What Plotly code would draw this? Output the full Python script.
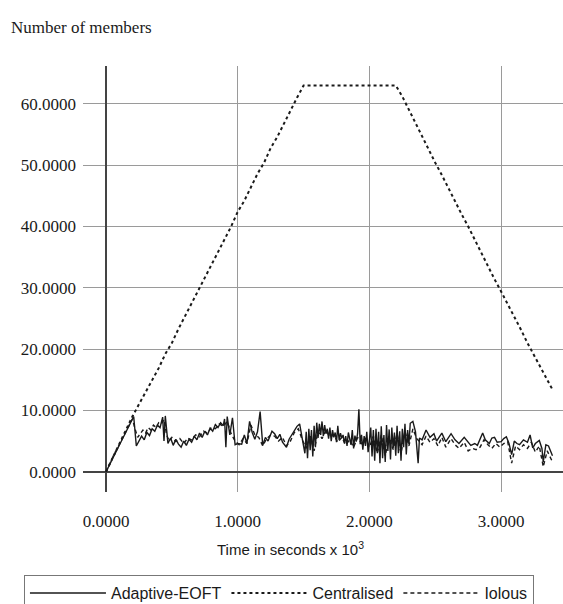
import plotly.graph_objects as go

# ---------------- data ----------------
t_central = [0, 0.05, 0.1, 0.15, 0.2, 0.25, 0.3, 0.35, 0.4, 0.45, 0.5, 0.55, 0.6, 0.65, 0.7,
             0.75, 0.8, 0.85, 0.9, 0.95, 1.0, 1.05, 1.1, 1.15, 1.2, 1.25, 1.3, 1.35, 1.4, 1.45,
             1.5, 1.6, 1.7, 1.8, 1.9, 2.0, 2.1, 2.2, 2.25, 2.3, 2.35, 2.4, 2.45, 2.5, 2.55, 2.6,
             2.65, 2.7, 2.75, 2.8, 2.85, 2.9, 2.95, 3.0, 3.05, 3.1, 3.15, 3.2, 3.25, 3.3, 3.35, 3.39]
y_central = [0, 2.3, 4.5, 6.8, 9.0, 11.0, 12.9, 14.8, 16.9, 19.2, 21.0, 23.3, 25.4, 27.5, 29.6,
             31.5, 33.8, 35.8, 37.9, 40.0, 42.4, 44.2, 46.4, 48.6, 50.4, 52.8, 54.6, 56.8, 59.0, 61.0,
             63.0, 63.0, 63.0, 63.0, 63.0, 63.0, 63.0, 63.0, 61.2, 59.0, 57.0, 54.8, 52.6, 50.4, 48.4, 46.2,
             44.2, 42.0, 40.0, 37.8, 35.8, 33.6, 31.4, 29.4, 27.4, 25.2, 23.2, 21.0, 19.0, 16.8, 14.8, 13.4]

t_adaptive = [0, 0.03, 0.06, 0.09, 0.12, 0.15, 0.18, 0.21, 0.23, 0.25, 0.27, 0.29, 0.31, 0.33,
              0.35, 0.37, 0.39, 0.41, 0.43, 0.44, 0.45, 0.47, 0.49, 0.51, 0.53, 0.55, 0.57, 0.59,
              0.61, 0.63, 0.65, 0.67, 0.69, 0.71, 0.73, 0.75, 0.77, 0.79, 0.81, 0.83, 0.85, 0.87,
              0.89, 0.90, 0.91, 0.92, 0.94, 0.96, 0.98, 1.00, 1.03, 1.05, 1.07, 1.09, 1.11, 1.13,
              1.15, 1.17, 1.19, 1.21, 1.23, 1.26, 1.28, 1.30, 1.32, 1.34, 1.37, 1.39, 1.41, 1.43,
              1.45, 1.47, 1.49, 1.50, 1.51, 1.52, 1.53, 1.54, 1.55, 1.56, 1.57, 1.58, 1.59, 1.60,
              1.61, 1.62, 1.63, 1.64, 1.65, 1.66, 1.67, 1.68, 1.69, 1.70, 1.71, 1.72, 1.73, 1.74,
              1.75, 1.76, 1.77, 1.78, 1.79, 1.80, 1.81, 1.82, 1.83, 1.84, 1.85, 1.86, 1.87, 1.88,
              1.89, 1.90, 1.91, 1.92, 1.93, 1.94, 1.95, 1.96, 1.97, 1.98, 1.99, 2.00, 2.01, 2.02,
              2.03, 2.04, 2.05, 2.06, 2.07, 2.08, 2.09, 2.10, 2.11, 2.12, 2.13, 2.14, 2.15, 2.16,
              2.17, 2.18, 2.19, 2.20, 2.21, 2.22, 2.23, 2.24, 2.25, 2.26, 2.27, 2.28, 2.29, 2.30,
              2.31, 2.33, 2.35, 2.37, 2.38, 2.40, 2.43, 2.46, 2.49, 2.51, 2.55, 2.58, 2.62, 2.65,
              2.68, 2.72, 2.75, 2.77, 2.80, 2.82, 2.86, 2.88, 2.91, 2.93, 2.95, 2.97, 3.00, 3.02,
              3.04, 3.06, 3.08, 3.10, 3.12, 3.14, 3.17, 3.20, 3.22, 3.24, 3.26, 3.29, 3.31, 3.32,
              3.34, 3.36, 3.39]
y_adaptive = [0, 1.3, 2.6, 3.9, 5.2, 6.4, 7.8, 9.0, 4.2, 5.0, 5.8, 5.2, 6.4, 5.9,
              7.0, 6.6, 7.6, 7.2, 8.9, 5.0, 9.1, 4.6, 5.5, 4.3, 5.3, 4.5, 4.0, 5.0,
              4.3, 5.3, 4.8, 5.8, 5.2, 6.3, 5.6, 6.6, 6.0, 7.1, 6.6, 7.7, 7.2, 8.0,
              7.5, 8.6, 4.0, 9.0, 6.0, 8.8, 4.4, 4.6, 4.5, 6.0, 4.6, 8.2, 6.4, 5.3,
              6.5, 9.8, 4.3, 5.6, 5.0, 6.6, 6.2, 5.4, 6.1, 4.8, 4.0, 5.3, 6.0, 6.8,
              7.4, 7.8, 5.5, 4.0, 3.0, 6.5, 2.2, 7.0, 3.5, 6.8, 2.5, 7.5, 4.0, 8.0,
              5.5, 7.8, 6.0, 8.2, 5.8, 7.6, 6.2, 7.0, 5.4, 7.2, 5.0, 6.8, 5.6, 6.4,
              4.8, 7.5, 5.2, 6.3, 5.5, 6.0, 4.6, 5.8, 4.2, 6.4, 5.0, 4.4, 6.8, 3.8,
              5.9, 4.9, 6.2, 10.2, 4.5, 6.0, 3.6, 5.8, 4.2, 6.5, 3.2, 5.0, 7.2, 2.5,
              6.8, 1.8, 7.0, 3.0, 6.5, 1.4, 7.4, 2.2, 6.0, 1.6, 7.6, 3.4, 6.9, 2.0,
              7.2, 3.8, 6.4, 2.6, 7.5, 3.0, 6.6, 1.8, 7.0, 4.0, 7.8, 2.8, 6.8, 4.5,
              7.9, 8.2, 6.5, 1.4, 5.5, 5.2, 6.8, 5.6, 6.2, 5.0, 6.3, 4.9, 6.2, 5.2,
              4.6, 5.6, 4.8, 4.3, 4.6, 4.3, 6.3, 5.2, 4.6, 5.5, 5.6, 4.8, 4.9, 5.4,
              5.7, 4.6, 2.8, 5.0, 4.6, 4.4, 5.2, 4.8, 6.0, 3.9, 4.6, 5.1, 3.8, 1.6,
              4.4, 4.2, 2.6]

t_iolous = [0, 0.03, 0.06, 0.09, 0.12, 0.15, 0.18, 0.20, 0.22, 0.24, 0.26, 0.28, 0.30, 0.32,
            0.34, 0.36, 0.38, 0.40, 0.42, 0.44, 0.46, 0.48, 0.50, 0.53, 0.56, 0.59, 0.62, 0.65,
            0.68, 0.71, 0.74, 0.77, 0.80, 0.83, 0.86, 0.89, 0.92, 0.95, 0.98, 1.01, 1.04, 1.07,
            1.10, 1.13, 1.16, 1.19, 1.22, 1.25, 1.28, 1.31, 1.34, 1.37, 1.40, 1.43, 1.46, 1.49,
            1.52, 1.55, 1.58, 1.61, 1.64, 1.67, 1.70, 1.73, 1.76, 1.79, 1.82, 1.85, 1.88, 1.91,
            1.94, 1.97, 2.00, 2.03, 2.06, 2.09, 2.12, 2.15, 2.18, 2.21, 2.24, 2.27, 2.30, 2.33,
            2.36, 2.40, 2.43, 2.46, 2.49, 2.52, 2.55, 2.58, 2.62, 2.65, 2.68, 2.72, 2.75, 2.78,
            2.81, 2.84, 2.87, 2.90, 2.93, 2.96, 2.99, 3.02, 3.05, 3.08, 3.11, 3.14, 3.17, 3.20,
            3.23, 3.26, 3.29, 3.32, 3.35, 3.39]
y_iolous = [0, 1.5, 2.8, 4.0, 5.3, 6.6, 7.8, 8.6, 7.0, 5.6, 6.2, 6.8, 6.3, 7.2,
            6.8, 7.6, 7.2, 8.0, 7.8, 8.5, 6.0, 5.0, 5.6, 4.9, 5.4, 4.6, 5.5, 5.2,
            6.0, 5.7, 6.6, 6.3, 7.2, 7.0, 7.8, 7.4, 8.2, 6.2, 5.0, 4.4, 5.4, 4.6,
            7.6, 6.0, 5.6, 4.2, 5.4, 6.0, 5.8, 5.0, 5.6, 4.2, 5.0, 6.4, 7.0, 5.2,
            3.8, 5.8, 3.4, 6.6, 5.4, 6.8, 5.6, 6.0, 4.8, 5.6, 4.4, 5.2, 4.0, 5.6,
            4.6, 5.4, 4.0, 5.8, 3.0, 6.0, 2.6, 5.8, 3.6, 6.2, 3.0, 6.6, 4.2, 7.0,
            5.4, 4.4, 5.8, 4.8, 5.4, 4.2, 5.6, 4.0, 5.4, 4.4, 3.8, 4.8, 3.4, 3.8,
            3.6, 4.0, 5.2, 4.4, 3.8, 4.6, 4.0, 4.6, 4.9, 1.4, 4.2, 3.6, 4.4, 3.8,
            4.8, 3.2, 4.2, 0.8, 3.4, 1.6]

x_ticks = [0, 1, 2, 3]
y_ticks = [0, 10, 20, 30, 40, 50, 60]

LINE = "#1a1a1a"
GRID = "#9a9a9a"
SERIF = "Liberation Serif"
SANS = "Liberation Sans"

fig = go.Figure()
fig.add_trace(go.Scatter(x=t_adaptive, y=y_adaptive, mode="lines", name="Adaptive-EOFT",
                         line=dict(color=LINE, width=1.4)))
fig.add_trace(go.Scatter(x=t_central, y=y_central, mode="lines", name="Centralised",
                         line=dict(color=LINE, width=2, dash="dot")))
fig.add_trace(go.Scatter(x=t_iolous, y=y_iolous, mode="lines", name="Iolous",
                         line=dict(color=LINE, width=1.4, dash="4px,3px")))

fig.update_layout(
    width=563, height=604,
    margin=dict(l=83, r=0, t=66, b=112, autoexpand=False),
    paper_bgcolor="white", plot_bgcolor="white",
    title=dict(text="Number of members", x=11 / 563, xref="container", xanchor="left",
               y=1 - 27 / 604, yref="container", yanchor="middle",
               font=dict(family=SERIF, size=17, color="#1a1a1a")),
    showlegend=True,
    legend=dict(orientation="h", x=-0.123, xanchor="left", y=-0.195, yanchor="top",
                bordercolor="#777", borderwidth=1, bgcolor="white",
                font=dict(family=SANS, size=16, color="#1a1a1a"), itemwidth=76),
    xaxis=dict(range=[-0.175, 3.47], tickvals=x_ticks, tickformat=".4f",
               showgrid=True, gridcolor=GRID, gridwidth=1,
               zeroline=True, zerolinecolor="#444", zerolinewidth=1.5,
               showline=False, ticks="", ticklabelstandoff=17,
               tickfont=dict(family=SERIF, size=17, color="#1a1a1a")),
    yaxis=dict(range=[-3.31, 66.18], tickvals=y_ticks, tickformat=".4f",
               showgrid=True, gridcolor=GRID, gridwidth=1,
               zeroline=True, zerolinecolor="#444", zerolinewidth=2,
               showline=False, ticks="", ticklabelstandoff=6,
               tickfont=dict(family=SERIF, size=17, color="#1a1a1a")),
    annotations=[dict(text="Time in seconds x 10<sup>3</sup>", xref="paper", yref="paper",
                      x=(290 - 83) / 480, y=(492 - 548) / 426, xanchor="center", yanchor="middle",
                      showarrow=False, font=dict(family=SANS, size=15, color="#1a1a1a"))],
)

fig.write_html("out.html", config={"displayModeBar": False},
               post_script="document.body.style.margin='0px';")
